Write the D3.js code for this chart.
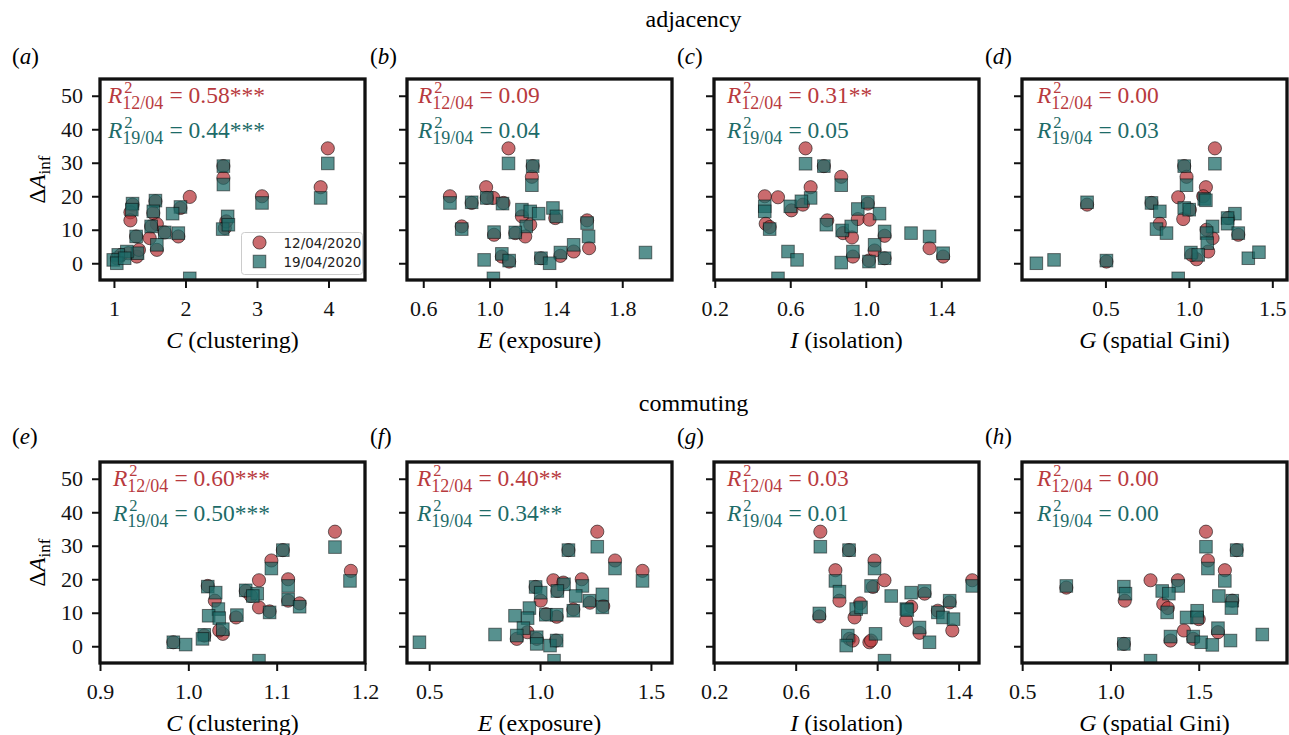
<!DOCTYPE html>
<html>
<head>
<meta charset="utf-8">
<script src="https://cdn.jsdelivr.net/npm/d3@7/dist/d3.min.js"></script>
<style>
  body { margin: 0; background: #fff; }
  svg { display: block; }
  text { font-family: "Liberation Serif", "Times New Roman", serif; }
</style>
</head>
<body>
<svg id="chart" width="1289" height="735"></svg>
<script>
// [x, ΔA_inf], one pair of arrays per panel (12/04 circles, 19/04 squares)
const a12 = [[3.99,34.3],[2.53,29],[2.53,25.5],[3.89,22.7],[3.07,20],[2.06,19.8],[1.26,17.5],[1.23,15.2],[1.23,12.8],[1.58,18.5],[1.60,11.7],[1.93,16.5],[1.52,11],[1.50,7.5],[1.60,4],[1.32,2],[1.90,8],[1.71,9.2],[1.31,8],[2.55,10.5],[2.57,12.5],[1.04,1.5],[1.10,2.5],[1.20,3],[1.35,4],[1.55,15]];
const a19 = [[3.99,29.8],[2.53,29],[2.53,23.5],[3.89,19.5],[3.07,18],[2.06,-4.5],[1.26,17.8],[1.25,16],[1.58,18.7],[1.55,15.5],[1.93,16.8],[1.82,14.8],[1.52,11],[1.31,8],[1.71,9.2],[1.90,9],[2.52,10.2],[2.59,14],[2.60,11.5],[1.60,5.5],[1.33,3],[1.18,3.5],[1.06,2.5],[0.99,1],[1.04,0],[1.15,1.5]];

const b12 = [[1.114,34.3],[1.26,29],[1.255,25.8],[0.979,22.7],[0.761,20],[1.023,19.5],[0.892,18],[0.832,11],[1.027,8.5],[1.195,14],[1.245,11.5],[1.215,8],[1.155,9],[1.588,12.8],[1.60,4.5],[1.507,3.5],[1.427,2.2],[1.31,1.5],[1.074,2],[1.118,0.5],[1.396,13.5],[1.084,18],[0.983,19.5]];
const b19 = [[1.114,29.8],[1.26,29],[1.255,23.3],[0.761,18],[0.892,18.2],[0.983,19.5],[1.078,17.8],[0.832,10.2],[1.027,9.3],[1.195,16],[1.245,15.5],[1.296,14.8],[1.221,11],[1.155,9.2],[1.382,16.5],[1.403,14],[1.588,12],[1.597,8],[1.507,5.5],[1.427,3.2],[1.31,1.5],[1.362,0],[0.967,1],[1.074,2.8],[1.118,0.8],[1.023,-4.5],[1.94,3.2]];

const c12 = [[0.681,34.3],[0.778,29],[0.870,25.8],[0.708,22.7],[0.535,19.7],[0.465,20],[0.47,11.8],[0.491,10.8],[0.606,15.8],[0.667,17.5],[0.796,12.8],[0.879,9],[0.927,7.7],[0.958,13.2],[1.011,17.8],[1.02,13],[1.10,8.2],[0.932,2],[1.017,0.8],[1.047,3.8],[1.10,1.5],[1.338,4.5],[1.41,2]];
const c19 = [[0.681,29.7],[0.778,29],[0.870,23.3],[0.708,19.5],[0.535,-4.5],[0.465,17],[0.465,15.5],[0.491,10.2],[0.60,17],[0.659,18.5],[0.791,11.5],[0.875,9.8],[0.923,11],[0.958,16.2],[1.011,18.3],[1.073,14.8],[1.10,9.5],[0.588,3.5],[0.636,1],[0.870,0.2],[0.932,3.5],[1.017,0.5],[1.047,5.5],[1.10,1.5],[1.24,9],[1.338,8],[1.41,3]];

const d12 = [[1.156,34.3],[0.972,29],[0.986,25.8],[1.102,22.7],[0.936,19.7],[0.966,13.2],[0.39,17.5],[0.506,0.5],[0.826,11.8],[1.086,20],[1.006,16],[1.296,8.5],[1.142,7.5],[1.116,3.5],[1.046,1.2],[1.236,13.5],[0.776,18],[1.106,10],[1.016,2.5]];
const d19 = [[1.156,29.7],[0.972,29],[0.986,23.3],[1.092,19.2],[0.936,-4.5],[0.39,18.2],[0.086,0],[0.192,1],[0.506,0.8],[0.776,18],[0.826,15.5],[0.806,10.2],[0.866,9],[0.972,16.5],[1.002,16],[1.102,18.8],[1.142,11],[1.106,9],[1.11,6],[1.012,3.2],[1.056,2.5],[1.276,14.8],[1.232,13.5],[1.232,11.8],[1.296,9],[1.356,1.5],[1.42,3.3]];

const e12 = [[1.166,34.2],[1.107,28.7],[1.094,25.6],[1.184,22.5],[1.080,19.7],[1.113,20],[1.080,11.6],[1.092,10.4],[1.126,12.8],[1.113,13.6],[1.030,13.6],[1.022,18],[1.054,8.6],[1.039,3.7],[1.035,4.7],[1.018,3.2],[1.065,16.5],[1.071,15],[0.983,1.2]];
const e19 = [[1.166,29.6],[1.107,28.7],[1.094,23.2],[1.183,19.5],[1.080,-4.3],[1.113,18],[1.113,14],[1.126,11.8],[1.022,17.8],[1.031,16],[1.065,16.7],[1.078,15.7],[1.073,15],[1.092,10.1],[1.034,11.1],[1.023,9.1],[1.035,8.4],[1.055,9.3],[1.039,5.1],[1.018,3.4],[1.016,2.2],[0.997,0.5],[0.983,1.2]];

const f12 = [[1.258,34.2],[1.128,28.7],[1.338,25.6],[1.462,22.5],[1.06,19.7],[1.188,20],[1.078,16.5],[1.105,19],[1.003,13.6],[0.98,17.7],[1.225,13],[1.15,11],[1.075,8.8],[1.027,9.6],[0.895,2.2],[0.943,4.2],[0.985,2.2],[1.072,1.7],[1.285,12]];
const f19 = [[1.258,29.7],[1.128,28.7],[1.338,23.2],[1.462,19.5],[1.063,-4.3],[1.191,18],[0.98,17.7],[1.003,16],[1.108,18.5],[1.078,16.5],[1.161,15],[1.222,13.6],[1.281,15.5],[1.281,11.6],[1.15,10.6],[1.026,9.4],[1.075,9.4],[0.952,11.4],[0.887,9.1],[0.944,8.4],[0.925,5.4],[0.895,3.2],[0.985,2.7],[0.985,0.7],[1.045,0.2],[1.075,1.7],[0.797,3.5],[0.456,1.2]];

const g12 = [[0.721,34.2],[0.862,28.7],[0.987,25.6],[0.795,22.7],[1.036,19.7],[0.979,17.7],[0.815,13.6],[0.916,12.8],[0.889,8.6],[0.716,8.9],[0.864,2.2],[0.88,1.7],[0.962,1.2],[0.97,1.7],[1.233,15.7],[1.167,11.8],[1.143,7.8],[1.208,4.0],[1.298,10.6],[1.356,13.1],[1.369,4.7],[1.467,19.7]];
const g19 = [[0.721,29.7],[0.862,28.7],[0.987,23.2],[0.795,19.5],[1.036,-4.3],[0.970,18],[0.815,16.3],[0.716,9.8],[0.897,11.1],[0.921,11.6],[0.856,3.2],[0.848,0.2],[0.992,3.7],[1.069,15],[1.167,16],[1.143,11.1],[1.208,5.6],[1.257,1.2],[1.233,16.5],[1.148,10.8],[1.298,10.1],[1.323,8.6],[1.356,13.6],[1.375,8.1],[1.467,18]];

const h12 = [[1.541,34.2],[1.715,28.7],[1.552,25.6],[1.648,22.7],[1.227,19.7],[1.382,19.7],[0.75,17.5],[1.081,13.6],[1.299,12.6],[1.325,11.4],[1.416,4.7],[1.469,2.2],[1.34,1.7],[1.076,0.7],[1.50,8.1],[1.609,4.2],[1.69,13.6]];
const h19 = [[1.541,29.7],[1.715,28.7],[1.552,23.2],[1.648,19.5],[1.227,-4.3],[0.75,18],[1.076,17.8],[1.085,15.7],[1.384,18],[1.293,16.5],[1.331,15.7],[1.321,10.1],[1.431,8.6],[1.491,10.6],[1.491,8.6],[1.34,2.9],[1.076,0.7],[1.469,2.9],[1.514,1.2],[1.577,0.4],[1.609,5.4],[1.614,15],[1.69,13.6],[1.685,11.4],[1.68,1.7],[1.86,3.5]];

const panelIds = ['a', 'b', 'c', 'd', 'e', 'f', 'g', 'h'];
const rowTitles = ['adjacency', 'commuting'];
const xVars = ['C', 'E', 'I', 'G', 'C', 'E', 'I', 'G'];
const xNames = ['(clustering)', '(exposure)', '(isolation)', '(spatial Gini)', '(clustering)', '(exposure)', '(isolation)', '(spatial Gini)'];
const xDomains = [[0.805, 4.51], [0.502, 2.1], [0.196, 1.6], [0, 1.588], [0.9, 1.2], [0.4, 1.595], [0.199, 1.5], [0.499, 2.0]];
const xTicks = [[1, 2, 3, 4], [0.6, 1.0, 1.4, 1.8], [0.2, 0.6, 1.0, 1.4], [0.5, 1.0, 1.5], [0.9, 1.0, 1.1, 1.2], [0.5, 1.0, 1.5], [0.2, 0.6, 1.0, 1.4], [0.5, 1.0, 1.5]];
const yTicks = [0, 10, 20, 30, 40, 50];
const r2First = ['0.58***', '0.09', '0.31**', '0.00', '0.60***', '0.40**', '0.03', '0.00'];
const r2Second = ['0.44***', '0.04', '0.05', '0.03', '0.50***', '0.34**', '0.01', '0.00'];
const seriesLabels = ['12/04/2020', '19/04/2020'];
const seriesSubs = ['12/04', '19/04'];
const data12 = [a12, b12, c12, d12, e12, f12, g12, h12];
const data19 = [a19, b19, c19, d19, e19, f19, g19, h19];

const red = '#b83a3e', teal = '#1d6b68';
const boxLeft = [100, 407, 714, 1022], boxTop = [79, 462];
const W = 265, H = 201;
const r2Offset = [8, 11, 13, 15, 13, 10, 13, 15];

const svg = d3.select('#chart');

const y = d3.scaleLinear().domain([-5, 55]).range([H, 0]);

rowTitles.forEach((t, i) => {
  svg.append('text')
      .attr('x', 693.5).attr('y', i === 0 ? 27 : 411)
      .attr('text-anchor', 'middle')
      .style('font-size', '24px')
      .text(t);
});

// R^2 with stacked super/subscript, LaTeX style
const drawR2 = (g, x0, y0, sub, value, color) => {
  const t = g.append('g').attr('fill', color);
  const r = t.append('text').attr('x', x0).attr('y', y0)
      .style('font-size', '23.5px').style('font-style', 'italic').text('R');
  const rw = r.node().getComputedTextLength();
  t.append('text').attr('x', x0 + rw + 2).attr('y', y0 - 10)
      .style('font-size', '16.5px').text('2');
  const s = t.append('text').attr('x', x0 + rw).attr('y', y0 + 6)
      .style('font-size', '18px').text(sub);
  const sw = s.node().getComputedTextLength();
  t.append('text').attr('x', x0 + rw + sw + 6).attr('y', y0)
      .style('font-size', '23.5px').text('= ' + value);
};

panelIds.forEach((id, i) => {
  const row = Math.floor(i / 4), col = i % 4;
  const left = boxLeft[col], top = boxTop[row];
  const g = svg.append('g').attr('transform', `translate(${left},${top})`);
  const x = d3.scaleLinear().domain(xDomains[i]).range([0, W]);

  g.append('clipPath').attr('id', `clip-${id}`)
    .append('rect').attr('width', W).attr('height', H);

  // axes
  const xAxis = d3.axisBottom(x)
      .tickValues(xTicks[i])
      .tickSize(8).tickPadding(12)
      .tickFormat(i === 0 ? d3.format('d') : d3.format('.1f'));
  const xa = g.append('g').attr('transform', `translate(0,${H})`).call(xAxis);

  const yAxis = d3.axisLeft(y).tickValues(yTicks).tickSize(8).tickPadding(9)
      .tickFormat(col === 0 ? d3.format('d') : '');
  const ya = g.append('g').call(yAxis);

  [xa, ya].forEach(a => {
    a.select('.domain').remove();
    a.selectAll('line').attr('stroke', '#111').attr('stroke-width', 2);
    a.selectAll('text').attr('fill', '#111')
        .style('font-family', '"Liberation Serif", serif').style('font-size', '22px');
  });

  // points: circles for 12/04 then squares for 19/04 on top
  const pts = g.append('g').attr('clip-path', `url(#clip-${id})`);
  pts.selectAll('circle')
    .data(data12[i])
    .enter().append('circle')
      .attr('cx', d => x(d[0]))
      .attr('cy', d => y(d[1]))
      .attr('r', 6.6)
      .attr('fill', red)
      .attr('fill-opacity', 0.75)
      .attr('stroke', '#000')
      .attr('stroke-opacity', 0.55)
      .attr('stroke-width', 1);

  pts.selectAll('rect')
    .data(data19[i])
    .enter().append('rect')
      .attr('x', d => x(d[0]) - 6.3)
      .attr('y', d => y(d[1]) - 6.3)
      .attr('width', 12.6).attr('height', 12.6)
      .attr('fill', teal)
      .attr('fill-opacity', 0.74)
      .attr('stroke', '#000')
      .attr('stroke-opacity', 0.5)
      .attr('stroke-width', 1);

  // frame
  g.append('rect')
      .attr('width', W).attr('height', H)
      .attr('fill', 'none').attr('stroke', '#111').attr('stroke-width', 3.3);

  drawR2(g, r2Offset[i], 24, seriesSubs[0], r2First[i], red);
  drawR2(g, r2Offset[i], 59, seriesSubs[1], r2Second[i], teal);

  // panel letter
  svg.append('text')
      .attr('x', col === 0 ? 12 : left - 37)
      .attr('y', row === 0 ? 64 : 444)
      .style('font-size', '23px')
    .call(t => {
      t.append('tspan').text('(');
      t.append('tspan').style('font-style', 'italic').text(id);
      t.append('tspan').text(')');
    });

  // x label
  const xl = g.append('text')
      .attr('x', W / 2).attr('y', H + 68)
      .attr('text-anchor', 'middle')
      .style('font-size', '24px');
  xl.append('tspan').style('font-style', 'italic').text(xVars[i]);
  xl.append('tspan').text(' ' + xNames[i]);

  if (col === 0) {
    const yl = svg.append('text')
        .attr('transform', `translate(45,${top + H / 2}) rotate(-90)`)
        .attr('text-anchor', 'middle')
        .style('font-size', '23px');
    yl.append('tspan').text('Δ');
    yl.append('tspan').style('font-style', 'italic').text('A');
    yl.append('tspan').attr('dy', 5).style('font-size', '17px').text('inf');
  }

  if (i === 0) {
    const lg = g.append('g').attr('transform', 'translate(141.5,153.5)');
    lg.append('rect')
        .attr('width', 121).attr('height', 42).attr('rx', 3)
        .attr('fill', '#fff').attr('fill-opacity', 0.8)
        .attr('stroke', '#ccc').attr('stroke-width', 1);
    lg.append('circle').attr('cx', 18).attr('cy', 10).attr('r', 6.6)
        .attr('fill', red).attr('fill-opacity', 0.75)
        .attr('stroke', '#000').attr('stroke-opacity', 0.55);
    lg.append('rect').attr('x', 11.7).attr('y', 22.7).attr('width', 12.6).attr('height', 12.6)
        .attr('fill', teal).attr('fill-opacity', 0.74)
        .attr('stroke', '#000').attr('stroke-opacity', 0.5);
    lg.selectAll('text.lab')
      .data(seriesLabels)
      .enter().append('text')
        .attr('class', 'lab')
        .attr('x', 42).attr('y', (d, k) => 15 + k * 19)
        .style('font-family', '"DejaVu Sans", sans-serif')
        .style('font-size', '13.5px')
        .attr('fill', '#222')
        .text(d => d);
  }
});
</script>
</body>
</html>
